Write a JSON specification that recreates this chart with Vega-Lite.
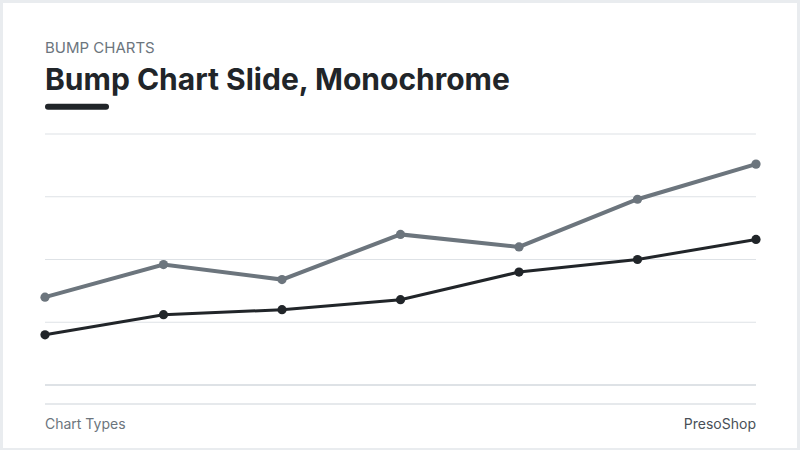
{
  "$schema": "https://vega.github.io/schema/vega-lite/v6.json",
  "width": 794,
  "height": 445,
  "autosize": "none",
  "padding": {"top": 3, "left": 3, "right": 3, "bottom": 2},
  "background": "#e9ecef",
  "config": {"view": {"fill": "#ffffff", "stroke": null}, "font": "Inter"},
  "title": {
    "text": "BUMP CHARTS",
    "subtitle": "Bump Chart Slide, Monochrome",
    "anchor": "start",
    "dx": 42,
    "offset": -93,
    "font": "Inter",
    "fontSize": 15,
    "fontWeight": 400,
    "color": "#6c757d",
    "subtitleFont": "Inter",
    "subtitleFontSize": 30,
    "subtitleFontWeight": 700,
    "subtitleColor": "#212529",
    "subtitlePadding": 10
  },
  "datasets": {
    "series": [
      {"step": 1, "series": "Series A", "score": 35},
      {"step": 2, "series": "Series A", "score": 48},
      {"step": 3, "series": "Series A", "score": 42},
      {"step": 4, "series": "Series A", "score": 60},
      {"step": 5, "series": "Series A", "score": 55},
      {"step": 6, "series": "Series A", "score": 74},
      {"step": 7, "series": "Series A", "score": 88},
      {"step": 1, "series": "Series B", "score": 20},
      {"step": 2, "series": "Series B", "score": 28},
      {"step": 3, "series": "Series B", "score": 30},
      {"step": 4, "series": "Series B", "score": 34},
      {"step": 5, "series": "Series B", "score": 45},
      {"step": 6, "series": "Series B", "score": 50},
      {"step": 7, "series": "Series B", "score": 58}
    ],
    "grid": [{"level": 25}, {"level": 50}, {"level": 75}, {"level": 100}]
  },
  "layer": [
    {
      "data": {"name": "grid"},
      "mark": {"type": "rule", "color": "#dee2e6", "strokeWidth": 1.2},
      "encoding": {
        "x": {"datum": 1, "type": "quantitative", "scale": {"domain": [0.6456, 7.346], "nice": false, "zero": false}, "axis": null},
        "x2": {"datum": 7},
        "y": {"field": "level", "type": "quantitative", "scale": {"domain": [-25.1, 152.19], "nice": false, "zero": false}, "axis": null}
      }
    },
    {
      "data": {"values": [{}]},
      "mark": {"type": "rule", "color": "#dee2e6", "strokeWidth": 2.2},
      "encoding": {
        "x": {"datum": 1, "type": "quantitative"},
        "x2": {"datum": 7},
        "y": {"datum": 0, "type": "quantitative"}
      }
    },
    {
      "data": {"values": [{}]},
      "mark": {"type": "rule", "color": "#dee2e6", "strokeWidth": 1.6},
      "encoding": {
        "x": {"datum": 1, "type": "quantitative"},
        "x2": {"datum": 7},
        "y": {"datum": -7.57, "type": "quantitative"}
      }
    },
    {
      "data": {"values": [{}]},
      "mark": {"type": "rule", "color": "#212529", "strokeWidth": 6, "strokeCap": "round"},
      "encoding": {
        "x": {"datum": 1.0253, "type": "quantitative"},
        "x2": {"datum": 1.515},
        "y": {"datum": 110.9, "type": "quantitative"}
      }
    },
    {
      "data": {"name": "series"},
      "mark": {"type": "line"},
      "encoding": {
        "x": {"field": "step", "type": "quantitative"},
        "y": {"field": "score", "type": "quantitative"},
        "color": {"field": "series", "type": "nominal", "scale": {"domain": ["Series A", "Series B"], "range": ["#6c757d", "#212529"]}, "legend": null},
        "strokeWidth": {"field": "series", "type": "nominal", "scale": {"domain": ["Series A", "Series B"], "range": [4, 3]}, "legend": null}
      }
    },
    {
      "data": {"name": "series"},
      "mark": {"type": "point", "filled": true, "opacity": 1, "size": 85, "shape": "circle"},
      "encoding": {
        "x": {"field": "step", "type": "quantitative"},
        "y": {"field": "score", "type": "quantitative"},
        "color": {"field": "series", "type": "nominal", "scale": {"domain": ["Series A", "Series B"], "range": ["#6c757d", "#212529"]}, "legend": null}
      }
    },
    {
      "data": {"values": [{}]},
      "mark": {"type": "text", "align": "left", "baseline": "middle", "fontSize": 14, "color": "#6c757d", "font": "Inter"},
      "encoding": {
        "x": {"datum": 1, "type": "quantitative"},
        "y": {"datum": -16, "type": "quantitative"},
        "text": {"value": "Chart Types"}
      }
    },
    {
      "data": {"values": [{}]},
      "mark": {"type": "text", "align": "right", "baseline": "middle", "fontSize": 14, "color": "#495057", "font": "Inter"},
      "encoding": {
        "x": {"datum": 7, "type": "quantitative"},
        "y": {"datum": -16, "type": "quantitative"},
        "text": {"value": "PresoShop"}
      }
    }
  ]
}
